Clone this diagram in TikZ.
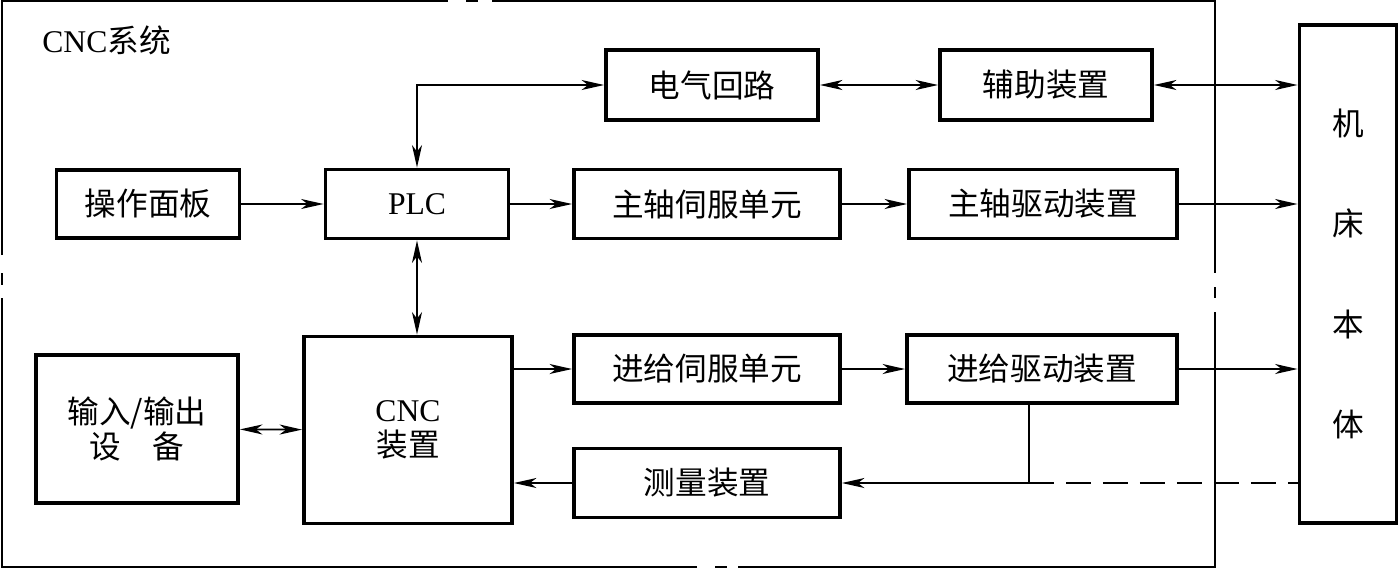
\documentclass[tikz,border=0pt]{standalone}
\usepackage{fontspec}
\setmainfont{Liberation Serif}
\newfontfamily\cjk{Noto Sans CJK SC}
\usetikzlibrary{arrows.meta}

\begin{document}
\begin{tikzpicture}[x=0.02cm,y=-0.02cm,
		>={Stealth[length=0.45cm,width=0.2cm,inset=0.13cm]},
		blk/.style={draw,line width=2.2pt,inner sep=0pt,align=center,font=\fontsize{18}{20}\selectfont},
		lnk/.style={line width=1pt},
		frame/.style={line width=1.1pt}]
		\useasboundingbox (0,0) rectangle (1400,569);
		% outer frame with breaks
		\draw[frame] (2,255) -- (2,1) -- (448,1);
		\draw[frame] (492,1) -- (1215,1) -- (1215,273);
		\draw[frame] (1215,312) -- (1215,567) -- (738,567);
		\draw[frame] (697,567) -- (2,567) -- (2,298);
		\draw[frame] (466,1) -- (478,1);
		\draw[frame] (1215,287) -- (1215,298);
		\draw[frame] (715,567) -- (727,567);
		\draw[frame] (2,273) -- (2,285);
		\node[anchor=west,inner sep=0pt,font=\fontsize{18}{20}\selectfont] (title) at (42,40) {CNC{\cjk 系统}};
		% blocks
		\node[blk,minimum width=4.24cm,minimum height=1.40cm] (elec) at (712,85) {\cjk 电气回路};
		\node[blk,minimum width=4.24cm,minimum height=1.40cm] (aux) at (1046,85) {\cjk 辅助装置};
		\node[blk,minimum width=3.66cm,minimum height=1.36cm] (panel) at (148,204) {\cjk 操作面板};
		\node[blk,minimum width=3.66cm,minimum height=1.38cm] (plc) at (417,204) {PLC};
		\node[blk,minimum width=5.32cm,minimum height=1.38cm] (sservo) at (707,204) {\cjk 主轴伺服单元};
		\node[blk,minimum width=5.36cm,minimum height=1.38cm] (sdrive) at (1043,204) {\cjk 主轴驱动装置};
		\node[blk,minimum width=1.94cm,minimum height=9.96cm,font=\fontsize{18}{57}\selectfont] (machine) at (1348,274) {\cjk 机\\\cjk 床\\\cjk 本\\\cjk 体};
		\node[blk,minimum width=4.04cm,minimum height=2.96cm] (io) at (137,429) {\cjk 输入/输出\\\cjk 设\hspace{1em}备};
		\node[blk,minimum width=4.16cm,minimum height=3.74cm] (cnc) at (408,430) {CNC\\\cjk 装置};
		\node[blk,minimum width=5.32cm,minimum height=1.36cm] (fservo) at (707,369) {\cjk 进给伺服单元};
		\node[blk,minimum width=5.40cm,minimum height=1.36cm] (fdrive) at (1042,369) {\cjk 进给驱动装置};
		\node[blk,minimum width=5.32cm,minimum height=1.38cm] (meas) at (707,483) {\cjk 测量装置};
		% connections
		\draw[lnk,<->] (plc.north) |- (elec.west);
		\draw[lnk,<->] (elec) -- (aux);
		\draw[lnk,<->] (aux.east) -- (aux.east -| machine.west);
		\draw[lnk,->] (panel) -- (plc);
		\draw[lnk,->] (plc) -- (sservo);
		\draw[lnk,->] (sservo) -- (sdrive);
		\draw[lnk,->] (sdrive.east) -- (sdrive.east -| machine.west);
		\draw[lnk,<->] (plc.south) -- (plc.south |- cnc.north);
		\draw[lnk,->] (fservo.west -| cnc.east) -- (fservo.west);
		\draw[lnk,->] (fservo) -- (fdrive);
		\draw[lnk,->] (fdrive.east) -- (fdrive.east -| machine.west);
		\draw[lnk,<->] (io) -- (cnc);
		\draw[lnk,->] (meas.west) -- (meas.west -| cnc.east);
		\coordinate (tap) at (1029,483);
		\draw[lnk] (fdrive.south -| tap) -- (tap);
		\draw[lnk,->] (tap) -- (meas.east);
		\draw[lnk,dash pattern=on 0.5cm off 0.24cm] (tap) -- (tap -| machine.west);
	\end{tikzpicture}
\end{document}
